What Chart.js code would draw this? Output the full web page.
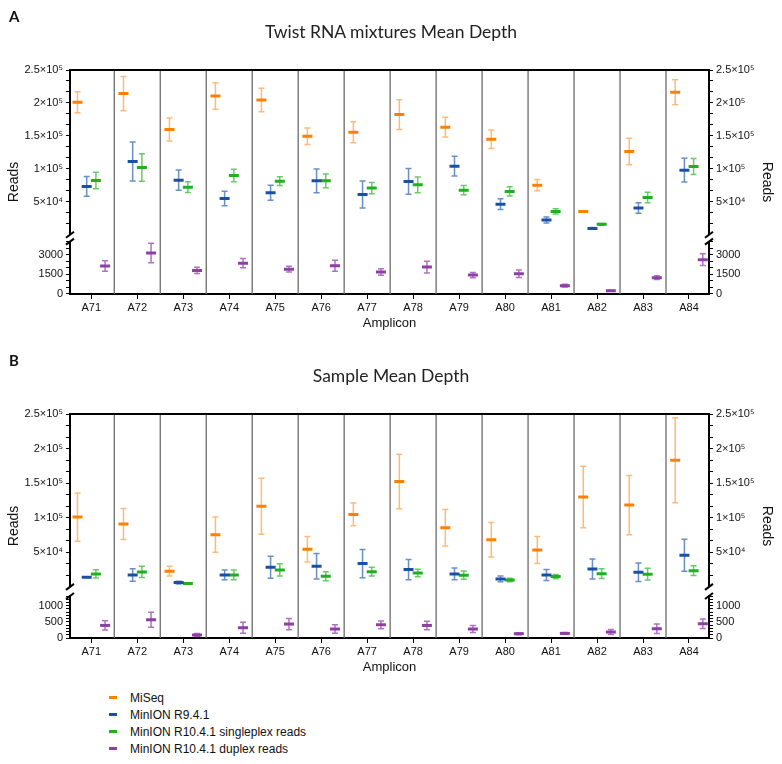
<!DOCTYPE html>
<html>
<head>
<meta charset="utf-8">
<script src="https://cdn.jsdelivr.net/npm/chart.js@4.4.1/dist/chart.umd.min.js"></script>
<style>
  body { margin: 0; background: #fff; width: 782px; height: 764px; position: relative; overflow: hidden;
         font-family: "Liberation Sans", Arial, sans-serif; }
  canvas { position: absolute; left: 0; }
  .tag { position: absolute; left: 9px; font: bold 15px Lato, sans-serif; color: #111; }
  .title { position: absolute; left: 0; width: 782px; text-align: center; font: 17.5px Lato, sans-serif; color: #222; line-height: 20px; }
  #legend { position: absolute; left: 109px; top: 689px; font-size: 12px; color: #111; }
  .row { height: 17px; display: flex; align-items: center; }
  .sw { width: 8px; height: 3px; margin-right: 13px; }
</style>
</head>
<body>
<canvas id="chartA" width="782" height="344" style="top:0"></canvas>
<canvas id="chartB" width="782" height="344" style="top:344px"></canvas>
<div class="tag" style="top:7px">A</div>
<div class="title" style="top:22px">Twist RNA mixtures Mean Depth</div>
<div class="tag" style="top:351px">B</div>
<div class="title" style="top:366px">Sample Mean Depth</div>
<div id="legend"></div>
<script>
const FONT = '"Liberation Sans", Arial, sans-serif';

const amplicons = ['A71', 'A72', 'A73', 'A74', 'A75', 'A76', 'A77', 'A78', 'A79', 'A80', 'A81', 'A82', 'A83', 'A84'];
const seriesNames = ['MiSeq', 'MinION R9.4.1', 'MinION R10.4.1 singleplex reads', 'MinION R10.4.1 duplex reads'];
const seriesColors = ['#ff8000', '#1a50a3', '#1faf1f', '#8e3fa6'];
const errColors = ['rgba(255,140,30,0.6)', 'rgba(40,95,180,0.7)', 'rgba(40,180,40,0.7)', 'rgba(145,70,170,0.75)'];
const seriesOffsets = [-0.3, -0.1, 0.1, 0.3];

// A: Twist RNA mixtures (mean, error)
const twistMiseq = [201000, 214200, 159700, 210600, 204500, 149500, 155600, 182400, 163200, 145000, 75300, 35500, 126300, 216200];
const twistMiseqErr = [16000, 26000, 17500, 20000, 18000, 12500, 16000, 22500, 15000, 14000, 8500, 1000, 20000, 19000];
const twistR94 = [73300, 111200, 82900, 55100, 63700, 81800, 61200, 80900, 104100, 46500, 22300, 9700, 40500, 98000];
const twistR94Err = [15000, 29500, 15500, 11000, 11500, 18000, 20500, 19500, 15000, 8000, 4500, 1500, 8000, 18000];
const twistSingle = [82400, 102100, 72300, 90000, 81400, 81800, 70800, 75800, 67700, 65800, 35500, 15800, 56700, 103600];
const twistSingleErr = [12500, 21000, 8000, 9500, 6500, 10500, 8500, 12000, 7000, 7000, 4000, 1500, 8000, 12000];
const twistDuplex = [2140, 3130, 1800, 2360, 1900, 2160, 1680, 2060, 1450, 1550, 640, 250, 1250, 2620];
const twistDuplexErr = [400, 750, 240, 360, 220, 420, 250, 450, 200, 290, 100, 40, 150, 450];

// B: Samples (mean, error)
const sampleMiseq = [100900, 90800, 22600, 75400, 116400, 54300, 104800, 152400, 85500, 68200, 53300, 129800, 118200, 183200];
const sampleMiseqErr = [35000, 22500, 7000, 25500, 40500, 18500, 16500, 39500, 26500, 25000, 19500, 44500, 43000, 61500];
const sampleR94 = [13900, 17200, 6100, 17200, 28300, 29800, 33600, 24900, 18700, 11500, 17200, 25900, 21100, 45700];
const sampleR94Err = [500, 9000, 2000, 7000, 16000, 18500, 20500, 14500, 8500, 4000, 8000, 14500, 13500, 23000];
const sampleSingle = [18700, 21600, 4700, 17200, 24500, 15400, 22000, 20100, 16800, 10000, 14800, 19100, 18300, 23400];
const sampleSingleErr = [6000, 8000, 1000, 7000, 9000, 6500, 6500, 5500, 6000, 2500, 3000, 7000, 8500, 7000];
const sampleDuplex = [390, 565, 93, 318, 432, 278, 410, 389, 278, 133, 142, 185, 287, 441];
const sampleDuplexErr = [145, 235, 50, 170, 175, 130, 120, 130, 110, 30, 25, 80, 145, 150];

// tick labels
const upperTicks = [50000, 100000, 150000, 200000, 250000];
const upperTickLabels = ['5×10⁴', '1×10⁵', '1.5×10⁵', '2×10⁵', '2.5×10⁵'];
const twistLowerTicks = [0, 1500, 3000];
const sampleLowerTicks = [0, 500, 1000];

function tickList(first, max, step) {
  const t = [];
  for (let k = 0; first + k * step <= max + 1e-6; k++) t.push(first + k * step);
  return t;
}
function tickLabel(v, ticks, labels) {
  const k = ticks.findIndex(t => Math.abs(t - v) < 1);
  return k < 0 ? '' : (labels ? labels[k] : String(ticks[k]));
}

function yAxis(pos, order, weight, min, max, values, ticks, labels, hidden) {
  const s = {
    type: 'linear', position: pos, stack: pos, stackWeight: weight, weight: order,
    min: min, max: max,
    afterFit: sc => { sc.width = 48; }
  };
  if (hidden) {
    s.ticks = { display: false };
    s.grid = { display: false };
    s.border = { display: false };
    return s;
  }
  s.afterBuildTicks = sc => { sc.ticks = values.map(v => ({ value: v })); };
  s.ticks = { autoSkip: false, padding: 3, color: '#111', font: { family: FONT, size: 11 },
              callback: v => tickLabel(v, ticks, labels) };
  s.grid = { drawOnChartArea: false, drawTicks: true, tickLength: 4, color: '#000', lineWidth: 1 };
  s.border = { display: true, color: '#000', width: 2 };
  return s;
}

const decor = {
  id: 'decor',
  beforeDatasetsDraw(chart) {
    const { ctx, chartArea: a, scales } = chart;
    const x = scales.x;
    ctx.save();
    ctx.strokeStyle = '#6b6b6b';
    ctx.lineWidth = 1.3;
    for (let i = 0; i < amplicons.length - 1; i++) {
      const px = x.getPixelForValue(i + 0.5);
      ctx.beginPath(); ctx.moveTo(px, a.top); ctx.lineTo(px, a.bottom); ctx.stroke();
    }
    ctx.strokeStyle = '#000';
    ctx.lineWidth = 2;
    ctx.beginPath(); ctx.moveTo(a.left - 1, a.top); ctx.lineTo(a.right + 1, a.top); ctx.stroke();
    // error bars
    chart.data.datasets.forEach(ds => {
      const ys = scales[ds.yAxisID];
      ctx.strokeStyle = ds.errColor;
      ctx.lineWidth = 1.5;
      ds.data.forEach((p, i) => {
        const e = ds.err[i];
        const px = x.getPixelForValue(p.x);
        const top = ys.getPixelForValue(p.y + e);
        const bot = ys.getPixelForValue(p.y - e);
        ctx.beginPath();
        ctx.moveTo(px, top); ctx.lineTo(px, bot);
        ctx.moveTo(px - 3, top); ctx.lineTo(px + 3, top);
        ctx.moveTo(px - 3, bot); ctx.lineTo(px + 3, bot);
        ctx.stroke();
      });
    });
    ctx.restore();
  },
  afterDraw(chart) {
    const { ctx, chartArea: a, scales } = chart;
    ctx.save();
    // axis break marks
    ctx.strokeStyle = '#000';
    ctx.lineWidth = 2;
    [a.left, a.right].forEach(px => {
      [scales.yU.bottom, scales.yL.top].forEach(py => {
        ctx.beginPath(); ctx.moveTo(px - 4, py + 3); ctx.lineTo(px + 4, py - 3); ctx.stroke();
      });
    });
    // y titles
    ctx.fillStyle = '#111';
    ctx.font = '14px ' + FONT;
    ctx.textAlign = 'center';
    ctx.textBaseline = 'middle';
    const cy = (a.top + a.bottom) / 2;
    ctx.save(); ctx.translate(14, cy); ctx.rotate(-Math.PI / 2); ctx.fillText('Reads', 0, 0); ctx.restore();
    ctx.save(); ctx.translate(767, cy); ctx.rotate(Math.PI / 2); ctx.fillText('Reads', 0, 0); ctx.restore();
    ctx.restore();
  }
};

function makeChart(id, means, errs, upperW, gapW, lowerW, lowerMax, lowerStep, lowerTicks) {
  const upperValues = tickList(50000 / 3, 250000, 50000 / 3);
  const lowerValues = tickList(0, lowerMax, lowerStep);
  const datasets = means.map((m, s) => ({
    label: seriesNames[s],
    data: amplicons.map((_, i) => ({ x: i + seriesOffsets[s], y: m[i] })),
    err: errs[s],
    errColor: errColors[s],
    yAxisID: s === 3 ? 'yL' : 'yU',
    pointStyle: 'line',
    pointRadius: 5,
    pointHoverRadius: 5,
    pointBorderWidth: 3,
    pointBorderColor: seriesColors[s],
    pointBackgroundColor: seriesColors[s]
  }));
  return new Chart(document.getElementById(id), {
    type: 'scatter',
    data: { datasets: datasets },
    options: {
      responsive: false,
      animation: false,
      layout: { padding: { top: 70, left: 22, right: 25, bottom: 10 } },
      plugins: { legend: { display: false }, tooltip: { enabled: false } },
      scales: {
        x: {
          type: 'linear', min: -0.463, max: 13.435,
          afterBuildTicks: sc => { sc.ticks = amplicons.map((_, i) => ({ value: i })); },
          afterFit: sc => { sc.height = 40; },
          ticks: { autoSkip: false, maxRotation: 0, padding: 2, color: '#111', font: { family: FONT, size: 11 },
                   callback: v => amplicons[v] },
          grid: { drawOnChartArea: false, tickLength: 5, color: '#000' },
          border: { color: '#000', width: 2 },
          title: { display: true, text: 'Amplicon', color: '#111', font: { family: FONT, size: 13 },
                   padding: { top: 2, bottom: 3 } }
        },
        // left stack: higher weight sits on top; right stack: lower weight on top
        yU: yAxis('left', 3, upperW, 0, 250000, upperValues, upperTicks, upperTickLabels),
        yG: yAxis('left', 2, gapW, 0, 1, [], [], null, true),
        yL: yAxis('left', 1, lowerW, 0, lowerMax, lowerValues, lowerTicks, null),
        yU2: yAxis('right', 1, upperW, 0, 250000, upperValues, upperTicks, upperTickLabels),
        yG2: yAxis('right', 2, gapW, 0, 1, [], [], null, true),
        yL2: yAxis('right', 3, lowerW, 0, lowerMax, lowerValues, lowerTicks, null)
      }
    },
    plugins: [decor]
  });
}

makeChart('chartA',
  [twistMiseq, twistR94, twistSingle, twistDuplex],
  [twistMiseqErr, twistR94Err, twistSingleErr, twistDuplexErr],
  165, 6.9, 52.4, 4000, 500, twistLowerTicks);

makeChart('chartB',
  [sampleMiseq, sampleR94, sampleSingle, sampleDuplex],
  [sampleMiseqErr, sampleR94Err, sampleSingleErr, sampleDuplexErr],
  173.3, 9.2, 42.1, 1300, 100, sampleLowerTicks);

// legend
const legend = document.getElementById('legend');
seriesNames.forEach((name, s) => {
  const row = document.createElement('div');
  row.className = 'row';
  const sw = document.createElement('span');
  sw.className = 'sw';
  sw.style.background = seriesColors[s];
  row.appendChild(sw);
  row.appendChild(document.createTextNode(name));
  legend.appendChild(row);
});
</script>
</body>
</html>
